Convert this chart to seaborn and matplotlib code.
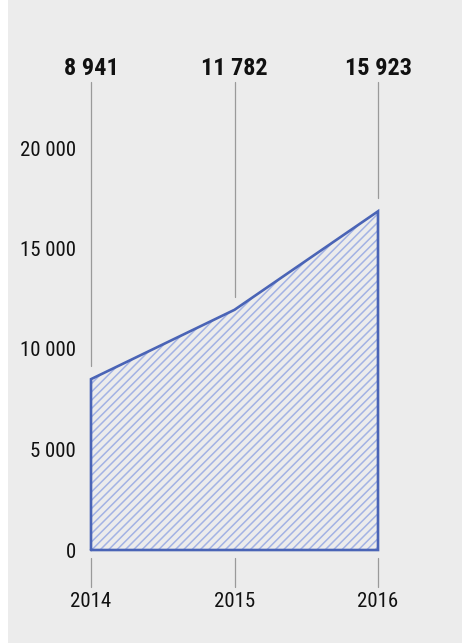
import matplotlib
matplotlib.use('Agg')
import matplotlib.pyplot as plt
import seaborn as sns
from matplotlib.patches import Rectangle

# Values as drawn in the chart, plus the labels printed above each year
years = [2014, 2015, 2016]
values = [8500, 11950, 16850]
top_labels = ['8 941', '11 782', '15 923']
y_ticks = [0, 5000, 10000, 15000, 20000]
y_tick_labels = ['0', '5 000', '10 000', '15 000', '20 000']

line_color = '#4a64b6'
hatch_color = '#a3b3e4'
grid_gray = '#9a9a9a'
paper = '#ececec'

sns.set_theme(style='white')
plt.rcParams['font.family'] = ['Roboto Condensed', 'DejaVu Sans']
plt.rcParams['font.stretch'] = 'condensed'
plt.rcParams['hatch.linewidth'] = 1.1

W, H = 462, 643
fig = plt.figure(figsize=(W / 100, H / 100), dpi=100)
fig.patch.set_facecolor(paper)
fig.patches.append(Rectangle((0, 0), 8 / W, 1, transform=fig.transFigure,
                             facecolor='white', edgecolor='none', zorder=0))

# axes region in pixels: x 91..378, y 148..550 (20000..0)
ax = fig.add_axes([91 / W, (H - 550) / H, (378 - 91) / W, (550 - 148) / H])
ax.set_facecolor('none')
ax.set_xlim(2014, 2016)
ax.set_ylim(0, 20000)
for s in ax.spines.values():
    s.set_visible(False)

ax.fill_between(years, values, 0, facecolor='none', edgecolor=hatch_color,
                hatch='////', linewidth=0, clip_on=False)
xs = [years[0]] + years + [years[-1], years[0]]
ys = [0] + values + [0, 0]
sns.lineplot(x=xs, y=ys, ax=ax, sort=False, estimator=None, color=line_color,
             lw=1.9, clip_on=False, solid_joinstyle='miter', zorder=4)

# gray drop lines from the labels down to each point
for x, v, lab in zip(years, values, top_labels):
    ax.plot([x, x], [v + 650, 23300], color=grid_gray, lw=0.9, clip_on=False)
    ax.text(x, 24100, lab, ha='center', va='center_baseline', fontsize=17.5,
            fontweight='bold', color='#111111', clip_on=False)
    ax.plot([x, x], [-400, -1850], color=grid_gray, lw=0.9, clip_on=False)

ax.set_yticks(y_ticks)
ax.set_yticklabels(y_tick_labels)
ax.set_xticks(years)
ax.set_xticklabels([str(y) for y in years])
ax.tick_params(axis='y', length=0, pad=11, labelsize=15, labelcolor='#111111')
ax.tick_params(axis='x', length=0, pad=30, labelsize=15, labelcolor='#111111')
for t in ax.get_yticklabels():
    t.set_verticalalignment('center_baseline')
ax.set_xlabel('')
ax.set_ylabel('')

fig.savefig('out.png', dpi=100, facecolor=fig.get_facecolor())
